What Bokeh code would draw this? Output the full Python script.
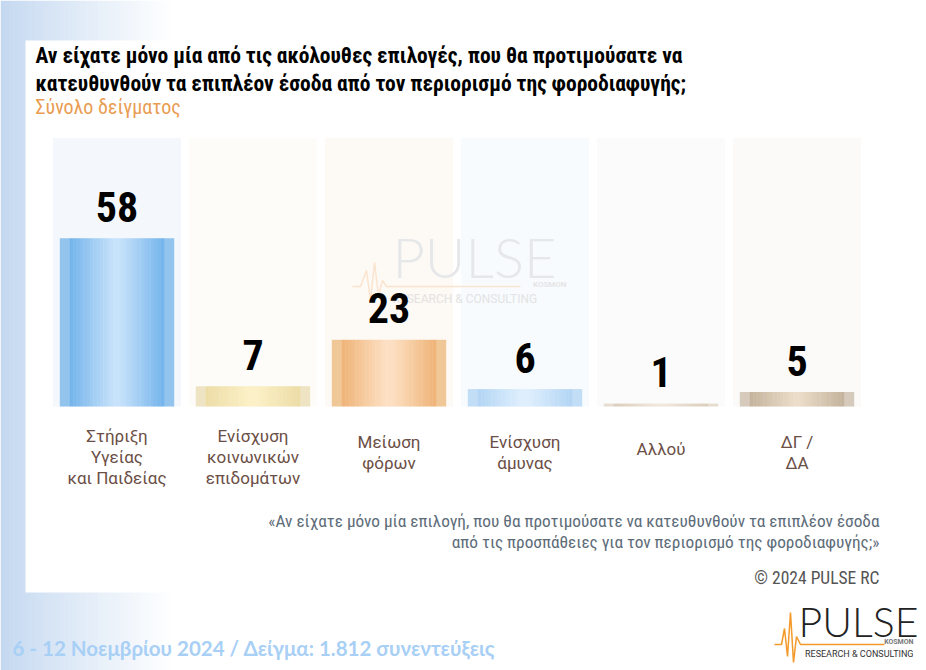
import numpy as np
from bokeh.plotting import figure
from bokeh.models import Range1d
from bokeh.core.properties import value
from bokeh.embed import file_html
from bokeh.resources import INLINE

# ---------------- data ----------------
categories = ["Στήριξη\nΥγείας\nκαι Παιδείας", "Ενίσχυση\nκοινωνικών\nεπιδομάτων",
              "Μείωση\nφόρων", "Ενίσχυση\nάμυνας", "Αλλού", "ΔΓ /\nΔΑ"]
values = [58, 7, 23, 6, 1, 5]
title_lines = ["Αν είχατε μόνο μία από τις ακόλουθες επιλογές, που θα προτιμούσατε να",
               "κατευθυνθούν τα επιπλέον έσοδα από τον περιορισμό της φοροδιαφυγής;"]
subtitle = "Σύνολο δείγματος"
footnote_lines = ["«Αν είχατε μόνο μία επιλογή, που θα προτιμούσατε να κατευθυνθούν τα επιπλέον έσοδα",
                  "από τις προσπάθειες για τον περιορισμό της φοροδιαφυγής;»"]
copyright_text = "© 2024 PULSE RC"
footer_text = "6 - 12  Νοεμβρίου  2024  /  Δείγμα:  1.812 συνεντεύξεις"

# ---------------- styles ----------------
bar_light = ["#c9e3fb", "#fcf1c8", "#fde1c6", "#e0effd", "#f1e8dc", "#ecdeca"]
bar_dark = ["#72b3ea", "#ecdca6", "#eeb377", "#b2d5f4", "#dacdbb", "#c3b29c"]
bar_edge = ["#92c4ee", "#eee3c2", "#f0c797", "#c2ddf6", "#e6ddd0", "#d5cabc"]
col_bg = ["#f4f8fd", "#fdfcf8", "#fdf9f4", "#f7fbfe", "#fbfbfb", "#fbfaf8"]

NARROW = "'Liberation Sans Narrow', 'Roboto Condensed', 'Arial Narrow', Roboto, sans-serif"
ROBOTO = "Roboto"

W, H = 926, 670
PX = 136.0   # pixels per category
PY = 2.9     # pixels per percentage point
X0 = 116.5   # screen x of first category centre
Y0 = 406.0   # screen y of value 0
LABEL_GAP = 31.5  # px from bar top to label centre


def dx(sx):
    return (sx - X0) / PX


def dy(sy):
    return (Y0 - sy) / PY


def hex2rgb(h):
    h = h.lstrip("#")
    return np.array([int(h[i:i + 2], 16) for i in (0, 2, 4)], dtype=float)


def mix(a, b, t):
    c = hex2rgb(a) * (1 - t) + hex2rgb(b) * t
    return "#%02x%02x%02x" % tuple(int(round(v)) for v in c)


p = figure(width=W, height=H, x_range=Range1d(dx(0), dx(W)),
           y_range=Range1d(dy(H), dy(0)), output_backend="svg",
           toolbar_location=None, min_border=0,
           x_axis_location=None, y_axis_location=None)
p.grid.visible = False
p.outline_line_color = None
p.background_fill_color = "white"
p.border_fill_color = "white"

# ---- page background gradient (left) ----
n_g = 40
gx = np.linspace(0, 170, n_g + 1)
p.quad(left=[dx(a) for a in gx[:-1]], right=[dx(b + 0.6) for b in gx[1:]],
       top=dy(0), bottom=dy(H),
       fill_color=[mix("#c4d8f0", "#ffffff", (k / n_g) ** 0.9) for k in range(n_g)],
       line_color=None)
# white panel
p.quad(left=dx(25), right=dx(W + 5), top=dy(40), bottom=dy(592),
       fill_color="white", line_color=None)

idx = list(range(len(categories)))

# ---- background columns ----
p.vbar(x=idx, width=128 / PX, top=dy(137.5), bottom=0,
       fill_color=col_bg, line_color=None)

# ---- watermark ----
wm_x = [352, 360, 366, 370, 374, 378, 382, 386, 520]
wm_y = [286, 286, 270, 300, 262, 295, 280, 286, 286]
p.line(x=[dx(a) for a in wm_x], y=[dy(b) for b in wm_y], line_color="#fbe4cf", line_width=1.5)
p.text(x=[dx(392)], y=[dy(256)], text=["PULSE"], text_font=value("'Lato Light', Lato"),
       text_font_size="56px", text_color="#e5e7e9", text_baseline="middle")
p.text(x=[dx(566)], y=[dy(284)], text=["KOSMON"], text_font=value(ROBOTO),
       text_font_style="bold", text_font_size="8px", text_color="#e5e5e5",
       text_align="right", text_baseline="middle")
p.text(x=[dx(392)], y=[dy(298)], text=["RESEARCH & CONSULTING"],
       text_font=value(ROBOTO), text_font_size="12px", text_color="#e3e3e3",
       text_baseline="middle")

# ---- bars with horizontal gradient ----
bar_px, edge_px, n_in = 114.0, 10.0, 28
sx, sw, st, sc = [], [], [], []
for i, v in zip(idx, values):
    for side in (-1, 1):
        sx.append(i + side * (bar_px / 2 - edge_px / 2) / PX)
        sw.append((edge_px + 0.4) / PX)
        st.append(v)
        sc.append(bar_edge[i])
    inner = bar_px - 2 * edge_px
    for k in range(n_in):
        c = -inner / 2 + (k + 0.5) * inner / n_in
        t = abs(c) / (inner / 2)
        sx.append(i + c / PX)
        sw.append((inner / n_in + 0.4) / PX)
        st.append(v)
        sc.append(mix(bar_light[i], bar_dark[i], t ** 1.1))
p.vbar(x=sx, width=sw, top=st, bottom=0, fill_color=sc, line_color=None)

# ---- value labels ----
p.text(x=idx, y=[v + LABEL_GAP / PY for v in values], text=[str(v) for v in values],
       text_align="center", text_baseline="middle", text_font=value(NARROW),
       text_font_style="bold", text_font_size="42px", text_color="#000000")

# ---- category labels ----
lx, ly, lt = [], [], []
for i, cat in zip(idx, categories):
    parts = cat.split("\n")
    n = len(parts)
    for j, part in enumerate(parts):
        lx.append(i)
        ly.append(dy(448 - (n - 1) * 6.5 + j * 21))
        lt.append(part)
p.text(x=lx, y=ly, text=lt, text_align="center", text_baseline="middle",
       text_font=value(ROBOTO), text_font_size="17px", text_color="#6b4e45")

# ---- title / subtitle ----
p.text(x=[dx(35), dx(35)], y=[dy(55), dy(83)], text=title_lines,
       text_font=value(NARROW), text_font_style="bold", text_font_size="21.5px",
       text_color="#000000", text_baseline="middle")
p.text(x=[dx(35)], y=[dy(106)], text=[subtitle], text_font=value(NARROW),
       text_font_size="20px", text_color="#e99c52", text_baseline="middle")

# ---- footnote ----
p.text(x=[dx(879), dx(879)], y=[dy(520), dy(541)], text=footnote_lines,
       text_font=value(NARROW), text_font_size="17.3px", text_color="#5d6c79",
       text_align="right", text_baseline="middle")
p.text(x=[dx(879)], y=[dy(577)], text=[copyright_text], text_font=value(NARROW),
       text_font_size="17.5px", text_color="#555555", text_align="right",
       text_baseline="middle")

# ---- footer ----
p.text(x=[dx(12)], y=[dy(647)], text=[footer_text], text_font=value("Lato"),
       text_font_style="bold", text_font_size="20.5px", text_color="#a8cff5",
       text_baseline="middle")

# ---- logo ----
lg_x = [774, 781, 784, 787, 790, 793, 796, 800, 884]
lg_y = [644, 644, 628, 656, 612, 662, 636, 644, 644]
p.line(x=[dx(a) for a in lg_x], y=[dy(b) for b in lg_y], line_color="#f39a2a", line_width=1.5)
p.text(x=[dx(798)], y=[dy(621)], text=["PULSE"], text_font=value("'Lato Light', Lato"),
       text_font_size="41px", text_color="#222222", text_baseline="middle")
p.text(x=[dx(913)], y=[dy(641)], text=["KOSMON"], text_font=value(ROBOTO),
       text_font_style="bold", text_font_size="7px", text_color="#777777",
       text_align="right", text_baseline="middle")
p.text(x=[dx(913)], y=[dy(653)], text=["RESEARCH & CONSULTING"], text_font=value(ROBOTO),
       text_font_size="9px", text_color="#333333", text_align="right",
       text_baseline="middle")

open("out.html", "w").write(file_html(p, INLINE))
